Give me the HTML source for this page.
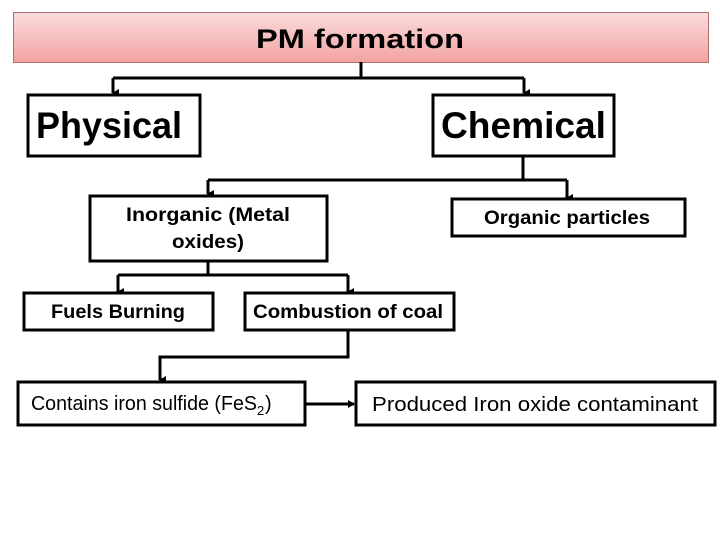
<!DOCTYPE html>
<html><head><meta charset="utf-8"><style>
html,body{margin:0;padding:0;background:#fff;}
svg{display:block;}
text{font-family:"Liberation Sans",sans-serif;fill:#000;}
</style></head><body>
<svg width="720" height="540" viewBox="0 0 720 540" xmlns="http://www.w3.org/2000/svg">
<defs>
<linearGradient id="g" x1="0" y1="0" x2="0" y2="1">
<stop offset="0" stop-color="#fbdcdc"/><stop offset="1" stop-color="#f2a2a2"/>
</linearGradient>
<marker id="a" markerWidth="8" markerHeight="8" refX="4" refY="6" orient="auto" markerUnits="userSpaceOnUse">
<path d="M0,0 L8,0 L4,7 z" fill="#000"/>
</marker>
<marker id="r" markerWidth="8" markerHeight="8" refX="6" refY="4" orient="auto" markerUnits="userSpaceOnUse">
<path d="M0,0 L7,4 L0,8 z" fill="#000"/>
</marker>
</defs>
<rect x="13.5" y="12.5" width="695" height="50" fill="url(#g)" stroke="#b07070" stroke-width="1"/>
<text x="360" y="48" font-size="27" font-weight="bold" text-anchor="middle" textLength="208" lengthAdjust="spacingAndGlyphs">PM formation</text>

<g fill="none" stroke="#000" stroke-width="3">
<path d="M361,62 V78"/>
<path d="M113,78 H524"/>
<path d="M113,78 V93" marker-end="url(#a)"/>
<path d="M524,78 V93" marker-end="url(#a)"/>
<path d="M523,157 V180"/>
<path d="M208,180 H567"/>
<path d="M208,180 V194" marker-end="url(#a)"/>
<path d="M567,180 V198" marker-end="url(#a)"/>
<path d="M208,261 V275"/>
<path d="M118,275 H348"/>
<path d="M118,275 V292" marker-end="url(#a)"/>
<path d="M348,275 V292" marker-end="url(#a)"/>
<path d="M348,330 V357 H160 V380" marker-end="url(#a)"/>
<path d="M306,404 H354" marker-end="url(#r)"/>
</g>

<g fill="#fff" stroke="#000" stroke-width="3">
<rect x="28" y="95" width="172" height="61"/>
<rect x="433" y="95" width="181" height="61"/>
<rect x="90" y="196" width="237" height="65"/>
<rect x="452" y="199" width="233" height="37"/>
<rect x="24" y="293" width="189" height="37"/>
<rect x="245" y="293" width="209" height="37"/>
<rect x="18" y="382" width="287" height="43"/>
<rect x="356" y="382" width="359" height="43"/>
</g>

<text x="36" y="138" font-size="37" font-weight="bold" textLength="146" lengthAdjust="spacingAndGlyphs">Physical</text>
<text x="441" y="138" font-size="37" font-weight="bold" textLength="165" lengthAdjust="spacingAndGlyphs">Chemical</text>
<text x="208" y="221" font-size="19" font-weight="bold" text-anchor="middle" textLength="164" lengthAdjust="spacingAndGlyphs">Inorganic (Metal</text>
<text x="208" y="248" font-size="19" font-weight="bold" text-anchor="middle" textLength="72" lengthAdjust="spacingAndGlyphs">oxides)</text>
<text x="567" y="224" font-size="19" font-weight="bold" text-anchor="middle" textLength="166" lengthAdjust="spacingAndGlyphs">Organic particles</text>
<text x="118" y="318" font-size="19" font-weight="bold" text-anchor="middle" textLength="134" lengthAdjust="spacingAndGlyphs">Fuels Burning</text>
<text x="348" y="318" font-size="19" font-weight="bold" text-anchor="middle" textLength="190" lengthAdjust="spacingAndGlyphs">Combustion of coal</text>
<text x="31" y="410" font-size="20" textLength="226" lengthAdjust="spacingAndGlyphs">Contains iron sulfide (FeS</text>
<text x="257" y="415" font-size="13">2</text>
<text x="265" y="410" font-size="20">)</text>
<text x="372" y="411" font-size="20" textLength="326" lengthAdjust="spacingAndGlyphs">Produced Iron oxide contaminant</text>
</svg>
</body></html>
